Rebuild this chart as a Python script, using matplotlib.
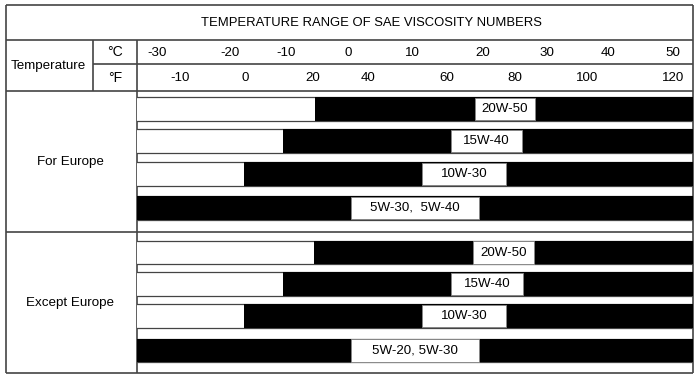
import matplotlib
matplotlib.use("Agg")
import matplotlib.pyplot as plt
from matplotlib.patches import Rectangle

plt.rcParams['font.family'] = ['Liberation Sans', 'DejaVu Sans']

# ---------------- data ----------------
title = "TEMPERATURE RANGE OF SAE VISCOSITY NUMBERS"
c_labels = ["-30", "-20", "-10", "0", "10", "20", "30", "40", "50"]
c_label_pos = [-30.2, -18.9, -10.2, -0.5, 9.5, 20.4, 30.4, 39.8, 49.9]   # °C
f_labels = ["-10", "0", "20", "40", "60", "80", "100", "120"]
f_label_pos = [-26.6, -16.5, -6.0, 2.6, 14.8, 25.4, 36.6, 49.9]          # °C

groups = ["For Europe", "Except Europe"]

europe_grades = ["20W-50", "15W-40", "10W-30", "5W-30,  5W-40"]
europe_low = [-5.7, -10.7, -16.7, -40.0]
europe_high = [60.0, 60.0, 60.0, 60.0]
europe_label_lo = [19.2, 15.45, 11.0, -0.1]
europe_label_hi = [28.5, 26.5, 24.0, 19.8]

except_grades = ["20W-50", "15W-40", "10W-30", "5W-20, 5W-30"]
except_low = [-5.9, -10.6, -16.7, -40.0]
except_high = [60.0, 60.0, 60.0, 60.0]
except_label_lo = [18.9, 15.45, 10.9, -0.1]
except_label_hi = [28.3, 26.6, 24.0, 19.8]

# ---------------- layout ----------------
W, H = 700, 382
PX0, PXS = 351.5, 6.44          # pixel of 0 °C, pixels per °C
BAR_LEFT, BAR_RIGHT = 137, 693
LC = "#444444"
LW = 1.2
FS = 9.6

fig = plt.figure(figsize=(W / 100, H / 100), dpi=100)
base = fig.add_axes([0, 0, 1, 1])
base.set_xlim(0, W)
base.set_ylim(H, 0)
base.axis("off")

bar = fig.add_axes([BAR_LEFT / W, 0, (BAR_RIGHT - BAR_LEFT) / W, 1])
bar.set_xlim((BAR_LEFT - PX0) / PXS, (BAR_RIGHT - PX0) / PXS)
bar.set_ylim(H, 0)
bar.axis("off")
bar.patch.set_alpha(0)

# table structure
L, R, T, B = 5.5, 693, 5, 373
def hline(y, x0, x1):
    base.plot([x0, x1], [y, y], color=LC, lw=LW, solid_capstyle="butt", zorder=5)
def vline(x, y0, y1):
    base.plot([x, x], [y0, y1], color=LC, lw=LW, solid_capstyle="butt", zorder=5)

hline(T, L, R); hline(B, L, R)
vline(L, T, B); vline(R, T, B)
hline(40, L, R)
hline(64.3, 93.3, R)
hline(91, L, R)
hline(231.7, L, R)
vline(93.3, 40, 91)
vline(137, 40, B)

base.text(371, 23, title, ha="center", va="center", fontsize=9.4)
base.text(48, 66, "Temperature", ha="center", va="center", fontsize=FS)
base.text(115, 52.5, "°C", ha="center", va="center", fontsize=FS + 0.5)
base.text(115, 78, "°F", ha="center", va="center", fontsize=FS + 0.5)
base.text(70, 162, groups[0], ha="center", va="center", fontsize=FS)
base.text(70, 303, groups[1], ha="center", va="center", fontsize=FS)

for lab, pos in zip(c_labels, c_label_pos):
    bar.text(pos, 52.5, lab, ha="center", va="center", fontsize=FS)
for lab, pos in zip(f_labels, f_label_pos):
    bar.text(pos, 78, lab, ha="center", va="center", fontsize=FS)

# bars
row_y = [[109, 141, 174, 208], [252.5, 284, 316, 350.5]]
row_h = 23.5
xmin, xmax = bar.get_xlim()
sets = [
    (europe_grades, europe_low, europe_high, europe_label_lo, europe_label_hi),
    (except_grades, except_low, except_high, except_label_lo, except_label_hi),
]
for ys, (grades, lo, hi, llo, lhi) in zip(row_y, sets):
    for y, g, a, b, c, d in zip(ys, grades, lo, hi, llo, lhi):
        # white strip with outline
        bar.add_patch(Rectangle((xmin - 5, y - row_h / 2), (xmax - xmin) + 10, row_h,
                                facecolor="white", edgecolor=LC, lw=0.9, zorder=1))
        bar.barh(y, b - a, left=a, height=row_h, color="black", zorder=2)
        bar.add_patch(Rectangle((c, y - row_h / 2 + 0.5), d - c, row_h - 1,
                                facecolor="white", edgecolor="#888888", lw=0.6, zorder=3))
        bar.text((c + d) / 2, y, g, ha="center", va="center", fontsize=FS, zorder=4)

fig.savefig("out.png", dpi=100)
